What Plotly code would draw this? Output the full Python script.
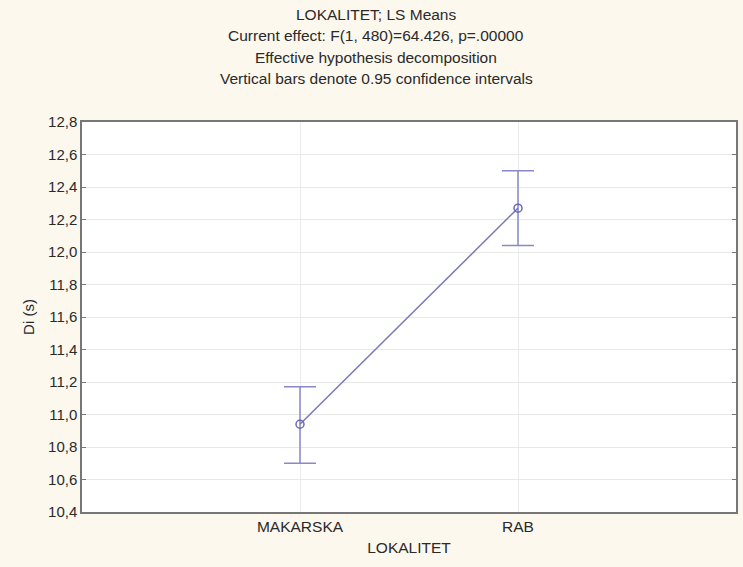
import plotly.graph_objects as go

categories = ["MAKARSKA", "RAB"]
means = [10.94, 12.27]
ci_upper = [11.17, 12.50]
ci_lower = [10.70, 12.04]
y_ticks = [10.4, 10.6, 10.8, 11.0, 11.2, 11.4, 11.6, 11.8, 12.0, 12.2, 12.4, 12.6, 12.8]
title_lines = [
    "LOKALITET; LS Means",
    "Current effect: F(1, 480)=64.426, p=.00000",
    "Effective hypothesis decomposition",
    "Vertical bars denote 0.95 confidence intervals",
]

err_plus = [u - m for u, m in zip(ci_upper, means)]
err_minus = [m - l for m, l in zip(means, ci_lower)]

FONT = "Liberation Sans, Arial, sans-serif"
TXT = "#2a2a2a"
fig = go.Figure()
fig.add_trace(go.Scatter(
    x=categories, y=means, mode="lines+markers",
    line=dict(color="#7a78b8", width=1.5),
    marker=dict(symbol="circle-open", size=8, color="#6a68b8", line=dict(width=1.5)),
    error_y=dict(type="data", symmetric=False, array=err_plus, arrayminus=err_minus,
                 color="#8a88cc", thickness=1.5, width=16),
    showlegend=False,
))

bg = "#fcf8ee"
fig.update_layout(
    width=743, height=567,
    paper_bgcolor=bg, plot_bgcolor="white",
    margin=dict(l=82, r=5, t=122, b=55),
    separators=",.",
    font=dict(family=FONT, size=15, color=TXT),
    xaxis=dict(
        type="category", range=[-1, 2],
        showgrid=True, gridcolor="#ececec", gridwidth=1,
        showline=True, linecolor="#777777", linewidth=1.5, mirror=True,
        ticks="", tickfont=dict(size=15.5, color=TXT),
        title=dict(text="LOKALITET", font=dict(size=15.5, color=TXT), standoff=8),
    ),
    yaxis=dict(
        range=[10.4, 12.8], tickvals=y_ticks, tickformat=".1f",
        showgrid=True, gridcolor="#e8e8e8", gridwidth=1,
        showline=True, linecolor="#777777", linewidth=1.5, mirror="allticks",
        ticks="inside", ticklen=4, tickcolor="#777777",
        tickfont=dict(size=15, color=TXT),
        zeroline=False,
        title=dict(text="Di (s)", font=dict(size=15, color=TXT), standoff=10),
    ),
)

shifts = [108, 87, 65, 44]
for txt, s in zip(title_lines, shifts):
    fig.add_annotation(text=txt, xref="paper", yref="paper", x=0.45, y=1,
                       xanchor="center", yanchor="middle", yshift=s, showarrow=False,
                       font=dict(size=15.5, color=TXT, family=FONT))

fig.write_html(
    "out.html",
    config={"displayModeBar": False},
    post_script="document.body.style.margin='0';document.body.style.overflow='hidden';",
)
